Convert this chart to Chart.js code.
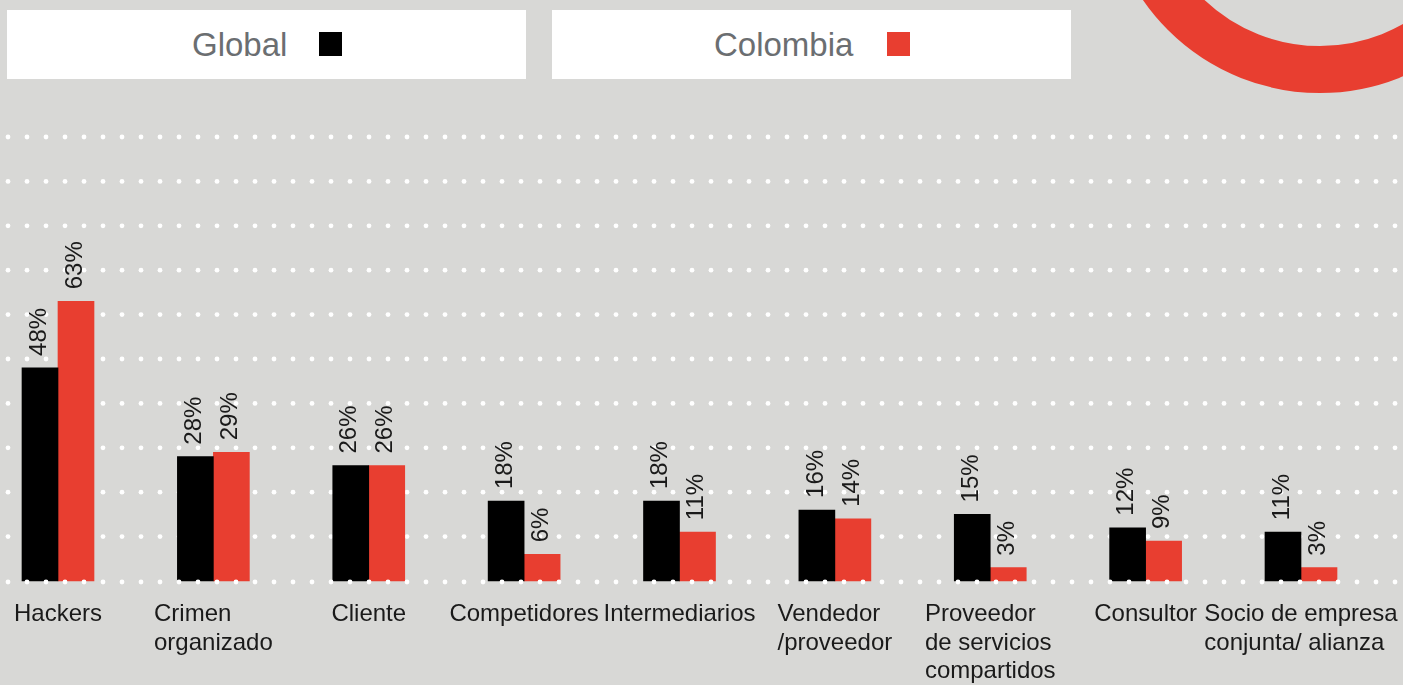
<!DOCTYPE html>
<html>
<head>
<meta charset="utf-8">
<script src="https://cdn.jsdelivr.net/npm/chart.js@4.4.1/dist/chart.umd.min.js"></script>
<style>
  html, body { margin: 0; padding: 0; }
  body { width: 1403px; height: 685px; background: #d8d8d6; overflow: hidden; position: relative; font-family: "Liberation Sans", Arial, sans-serif; }
  .ring { position: absolute; left: 1105px; top: -337px; width: 430px; height: 430px; box-sizing: border-box; border: 47px solid #e83e30; border-radius: 50%; }
  .box { position: absolute; top: 10px; height: 69px; background: #fff; }
  .lbl { position: absolute; top: 28px; font-size: 33px; line-height: 33px; color: #6b6e71; white-space: nowrap; }
  .sw { position: absolute; top: 32px; width: 23px; height: 24px; }
  #wrap { position: absolute; left: 0; top: 0; width: 1403px; height: 685px; }
</style>
</head>
<body>
<div class="ring"></div>
<div class="box" style="left:7px;width:519px;"></div>
<div class="box" style="left:552px;width:519px;"></div>
<span class="lbl" style="left:192px;">Global</span>
<div class="sw" style="left:319px;background:#000;"></div>
<span class="lbl" style="left:714px;">Colombia</span>
<div class="sw" style="left:887px;background:#e83e30;"></div>
<div id="wrap"><canvas id="chart"></canvas></div>
<script>
const categories = [
  ['Hackers'],
  ['Crimen', 'organizado'],
  ['Cliente'],
  ['Competidores'],
  ['Intermediarios'],
  ['Vendedor', '/proveedor'],
  ['Proveedor', 'de servicios', 'compartidos'],
  ['Consultor'],
  ['Socio de empresa', 'conjunta/ alianza']
];
const globalValues = [48, 28, 26, 18, 18, 16, 15, 12, 11];
const colombiaValues = [63, 29, 26, 6, 11, 14, 3, 9, 3];
const gridSteps = [0, 10, 20, 30, 40, 50, 60, 70, 80, 90, 100];

const FONT = '"Liberation Sans", Arial, sans-serif';

function dotRow(ctx, y, width) {
  ctx.fillStyle = '#ffffff';
  for (let x = 8; x < width; x += 19) {
    ctx.beginPath();
    ctx.arc(x, y, 2.4, 0, Math.PI * 2);
    ctx.fill();
  }
}

// white dotted rows every 10%, baseline row drawn over the bars
const dottedGrid = {
  id: 'dottedGrid',
  beforeDatasetsDraw(chart) {
    const ctx = chart.ctx;
    const y = chart.scales.y;
    ctx.save();
    gridSteps.forEach(v => { if (v > 0) dotRow(ctx, y.getPixelForValue(v), chart.width); });
    ctx.restore();
  },
  afterDatasetsDraw(chart) {
    const ctx = chart.ctx;
    ctx.save();
    dotRow(ctx, chart.scales.y.getPixelForValue(0) + 1, chart.width);
    ctx.restore();
  }
};

const barLabels = {
  id: 'barLabels',
  afterDatasetsDraw(chart) {
    const ctx = chart.ctx;
    ctx.save();
    ctx.font = '24px ' + FONT;
    ctx.fillStyle = '#1a1a1a';
    ctx.textAlign = 'left';
    ctx.textBaseline = 'middle';
    chart.data.datasets.forEach((ds, di) => {
      chart.getDatasetMeta(di).data.forEach((el, i) => {
        ctx.save();
        ctx.translate(el.x - 1, el.y - 12);
        ctx.rotate(-Math.PI / 2);
        ctx.fillText(ds.data[i] + '%', 0, 0);
        ctx.restore();
      });
    });
    ctx.restore();
  }
};

// category names: block centred under the bar pair, lines left-aligned
const xLabels = {
  id: 'xLabels',
  afterDraw(chart) {
    const ctx = chart.ctx;
    const xs = chart.scales.x;
    ctx.save();
    ctx.font = '24px ' + FONT;
    ctx.fillStyle = '#1a1a1a';
    ctx.textAlign = 'left';
    ctx.textBaseline = 'alphabetic';
    categories.forEach((lines, i) => {
      const cx = xs.getPixelForValue(i);
      const w = Math.max(...lines.map(l => ctx.measureText(l).width));
      lines.forEach((l, j) => ctx.fillText(l, cx - w / 2, 621 + j * 28.5));
    });
    ctx.restore();
  }
};

new Chart(document.getElementById('chart'), {
  type: 'bar',
  data: {
    labels: categories,
    datasets: [
      { label: 'Global', data: globalValues, backgroundColor: '#000000', barThickness: 36, clip: false },
      { label: 'Colombia', data: colombiaValues, backgroundColor: '#e83e30', barThickness: 36, clip: false }
    ]
  },
  options: {
    responsive: true,
    maintainAspectRatio: false,
    animation: false,
    layout: { padding: { left: 58, right: 102, top: 137, bottom: 104 } },
    plugins: { legend: { display: false }, tooltip: { enabled: false } },
    scales: {
      x: { display: false, offset: false },
      y: { display: false, min: 0, max: 100, ticks: { stepSize: 10 } }
    }
  },
  plugins: [dottedGrid, barLabels, xLabels]
});
</script>
</body>
</html>
